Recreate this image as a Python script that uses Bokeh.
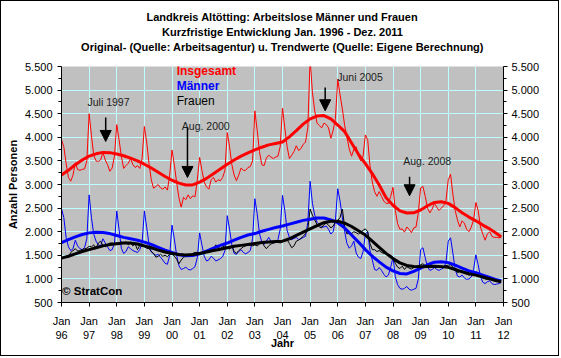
from bokeh.plotting import figure
from bokeh.models import Range1d, FixedTicker, LinearAxis, Label, Arrow, NormalHead, Title
from bokeh.embed import file_html
from bokeh.resources import INLINE

FONT = "Liberation Sans"

# ---------------- data (monthly, Jan 1996 - Dec 2011) ----------------
insgesamt = [
    3950, 3800, 3450, 3150, 3070, 3200, 3460, 3320, 3300, 3320, 3330, 3500,
    4500, 4040, 3620, 3500, 3490, 3520, 3680, 3520, 3420, 3280, 3350, 3600,
    4270, 3950, 3600, 3340, 3400, 3450, 3550, 3420, 3360, 3400, 3340, 3550,
    4230, 3900, 3450, 3100, 2920, 2960, 3000, 2930, 2900, 2950, 2880, 3200,
    3730, 3420, 3050, 2720, 2520, 2730, 2680, 2780, 2700, 2760, 2740, 3100,
    3575, 3300, 3050, 2950, 2900, 3100, 3150, 3050, 3100, 3080, 3150, 3300,
    4100, 3800, 3420, 3200, 3080, 3200, 3350, 3300, 3300, 3360, 3380, 3500,
    4560, 4150, 3700, 3420, 3400, 3560, 3620, 3580, 3550, 3580, 3600, 3800,
    4620, 4200, 3800, 3550, 3620, 3700, 3820, 3720, 3760, 3850, 3900, 4200,
    5650, 4950, 4560, 4300, 4250, 4200, 4300, 4270, 4200, 3980, 4150, 4400,
    5230, 4900, 4600, 4250, 4000, 3750, 3600, 3750, 3800, 3600, 3500, 3600,
    4050, 3950, 3400, 3050, 2850, 2750, 2850, 2750, 2650, 2600, 2600, 2750,
    2940, 2450, 2170, 2050, 2060, 1990, 2100, 2050, 1980, 2080, 2100, 2400,
    2930, 2960, 2750, 2500, 2400, 2480, 2600, 2520, 2450, 2500, 2550, 2650,
    3100, 3220, 2800, 2450, 2250, 2100, 2230, 2180, 2050, 2000, 2100, 2250,
    2620, 2450, 2100, 1950, 1820, 1950, 2000, 1900, 1880, 1880, 1870, 1880,
]
maenner = [
    2490, 2300, 1880, 1680, 1600, 1640, 1820, 1700, 1640, 1620, 1660, 1850,
    2780, 2300, 1950, 1800, 1720, 1700, 1850, 1760, 1680, 1600, 1620, 1750,
    2440, 2050, 1650, 1540, 1580, 1680, 1640, 1600, 1580, 1560, 1620, 1750,
    2440, 2090, 1740, 1570, 1530, 1500, 1520, 1460, 1400, 1330, 1310, 1500,
    2140, 1850, 1500, 1280, 1200, 1220, 1250, 1200, 1190, 1220, 1260, 1450,
    1975, 1720, 1480, 1380, 1400, 1480, 1440, 1380, 1400, 1430, 1470, 1600,
    2340, 2050, 1720, 1540, 1520, 1580, 1620, 1560, 1530, 1560, 1600, 1850,
    2700, 2380, 1960, 1780, 1730, 1800, 1880, 1800, 1760, 1780, 1830, 2050,
    2770, 2450, 2030, 1880, 1830, 1860, 1880, 1830, 1850, 1880, 1900, 2200,
    3070, 2600, 2350, 2200, 2150, 2100, 2100, 2120, 2050, 1950, 2000, 2250,
    2910, 2650, 2300, 2000, 1750, 1650, 1700, 1800, 1550, 1460, 1430, 1580,
    1950, 2000, 1600, 1400, 1200, 1180, 1240, 1180, 1100, 1040, 1080, 1250,
    1460, 1050, 880, 800, 780, 800, 840, 780, 760, 780, 800, 1000,
    1620, 1660, 1450, 1250, 1180, 1200, 1240, 1200, 1180, 1210, 1230, 1350,
    1800, 1870, 1550, 1200, 1060, 1040, 1080, 1020, 990, 1000, 1040, 1200,
    1510, 1300, 1050, 930, 900, 940, 960, 900, 880, 890, 900, 930,
]
frauen = [
    1430, 1450, 1480, 1450, 1560, 1600, 1640, 1590, 1600, 1620, 1640, 1650,
    1690, 1680, 1720, 1650, 1760, 1800, 1700, 1680, 1720, 1760, 1760, 1740,
    1770, 1720, 1790, 1740, 1790, 1720, 1760, 1700, 1740, 1620, 1710, 1690,
    1680, 1650, 1640, 1580, 1540, 1460, 1480, 1520, 1480, 1500, 1470, 1520,
    1540, 1480, 1420, 1320, 1400, 1460, 1480, 1500, 1510, 1540, 1560, 1560,
    1560, 1550, 1580, 1600, 1620, 1600, 1640, 1720, 1680, 1640, 1680, 1700,
    1660, 1630, 1700, 1580, 1540, 1600, 1640, 1680, 1700, 1720, 1720, 1700,
    1720, 1700, 1740, 1780, 1700, 1640, 1700, 1740, 1760, 1770, 1780, 1760,
    1790, 1800, 1830, 1750, 1660, 1700, 1800, 1820, 1860, 1900, 1960, 2050,
    2480, 2350, 2250, 2150, 2100, 2080, 2150, 2180, 2140, 2080, 2120, 2200,
    2240, 2300, 2480, 2100, 1950, 1980, 1960, 2000, 1980, 1950, 1990, 2030,
    2060, 2000, 1750, 1620, 1620, 1580, 1600, 1560, 1540, 1550, 1520, 1500,
    1460, 1330, 1250, 1220, 1270, 1200, 1260, 1230, 1210, 1240, 1260, 1280,
    1300, 1320, 1280, 1260, 1240, 1260, 1280, 1250, 1260, 1270, 1260, 1280,
    1290, 1300, 1250, 1200, 1130, 1160, 1180, 1120, 1100, 1080, 1100, 1110,
    1100, 1090, 1060, 1020, 1000, 990, 1000, 970, 960, 950, 940, 930,
]

# trend values, every third month (month index from Jan 1996) plus Dec 2011
trend_month = list(range(0, 190, 3)) + [191]
trend_insgesamt = [
    3200, 3300, 3420, 3520, 3600, 3650, 3680, 3675, 3645, 3610, 3560, 3500,
    3430, 3350, 3260, 3170, 3090, 3030, 2990, 2990, 3050, 3130, 3230, 3330,
    3430, 3520, 3600, 3670, 3735, 3790, 3840, 3870, 3900, 4010, 4140, 4280,
    4390, 4450, 4460, 4390, 4260, 4120, 3880, 3640, 3440, 3230, 2990, 2720,
    2560, 2440, 2395, 2400, 2460, 2550, 2620, 2635, 2600, 2510, 2400, 2310,
    2230, 2140, 2060, 1960, 1890,
]
trend_maenner = [
    1770, 1830, 1890, 1940, 1975, 1990, 1985, 1960, 1920, 1880, 1850, 1820,
    1780, 1730, 1670, 1610, 1560, 1510, 1490, 1495, 1530, 1590, 1650, 1710,
    1760, 1820, 1880, 1930, 1960, 2010, 2050, 2090, 2120, 2160, 2200, 2240,
    2265, 2290, 2290, 2250, 2190, 2080, 1930, 1780, 1620, 1480, 1360, 1250,
    1170, 1115, 1105, 1160, 1230, 1300, 1355, 1365, 1345, 1290, 1230, 1170,
    1130, 1080, 1030, 980, 960,
]
trend_frauen = [
    1440, 1480, 1530, 1580, 1620, 1660, 1700, 1730, 1745, 1760, 1760, 1740,
    1700, 1660, 1610, 1570, 1540, 1515, 1505, 1515, 1540, 1570, 1600, 1630,
    1660, 1690, 1710, 1730, 1750, 1770, 1780, 1790, 1800, 1850, 1920, 1990,
    2060, 2130, 2190, 2220, 2220, 2180, 2110, 2020, 1930, 1800, 1670, 1540,
    1430, 1340, 1285, 1265, 1260, 1265, 1270, 1260, 1245, 1200, 1150, 1110,
    1080, 1040, 1000, 960, 940,
]

title_lines = ["Landkreis Altötting: Arbeitslose Männer und Frauen",
               "Kurzfristige Entwicklung Jan. 1996 - Dez. 2011",
               "Original- (Quelle: Arbeitsagentur) u. Trendwerte (Quelle: Eigene Berechnung)"]

year_ticks = list(range(1996, 2013))
x_labels = {y: "Jan\n%02d" % (y % 100) for y in year_ticks}
y_ticks = list(range(500, 5501, 500))
y_minor = list(range(750, 5500, 500))
y_labels = {v: ("{:,}".format(v)).replace(",", ".") for v in y_ticks}

x_orig = [1996 + m / 12 for m in range(len(insgesamt))]
x_trend = [1996 + m / 12 for m in trend_month]

# ---------------- figure ----------------
p = figure(width=559, height=356, x_range=Range1d(1996, 2012), y_range=Range1d(500, 5500),
           output_backend="svg", toolbar_location=None,
           min_border_left=60, min_border_right=57, min_border_top=65, min_border_bottom=55,
           background_fill_color="#C0C0C0", border_fill_color="white", outline_line_color=None)
p.styles = {"border": "1px solid black"}

# blank spacer between the frame and the title block
p.add_layout(Title(text=" ", text_font=FONT, text_font_size="10px", standoff=0), "above")
# title lines: nearest to the frame is added first
for txt in reversed(title_lines):
    p.add_layout(Title(text=txt, align="center", text_font=FONT,
                       text_font_size="11px", text_font_style="bold", text_color="black",
                       standoff=1, offset=5), "above")

# grids
p.xgrid.ticker = FixedTicker(ticks=year_ticks)
p.ygrid.ticker = FixedTicker(ticks=y_ticks)
for g in (p.xgrid, p.ygrid):
    g.grid_line_color = "#C0FFFF"
    g.grid_line_width = 1

# axes
def style_axis(ax):
    ax.axis_line_color = "black"
    ax.major_tick_line_color = "black"
    ax.minor_tick_line_color = "black"
    ax.major_tick_in = 0
    ax.minor_tick_in = 0
    ax.major_label_text_font = FONT
    ax.major_label_text_font_size = "11px"
    ax.major_label_text_color = "black"
    ax.axis_label_text_font = FONT
    ax.axis_label_text_font_size = "11px"
    ax.axis_label_text_font_style = "bold"
    ax.axis_label_text_color = "black"

xa = p.xaxis[0]
xa.ticker = FixedTicker(ticks=year_ticks)
xa.major_label_overrides = x_labels
xa.major_tick_out = 4
xa.minor_tick_out = 0
xa.major_label_standoff = 8
xa.axis_label = "Jahr"
xa.axis_label_standoff = -7
style_axis(xa)
xa.major_label_text_line_height = 1.2

ya = p.yaxis[0]
ya.ticker = FixedTicker(ticks=y_ticks, minor_ticks=y_minor)
ya.major_label_overrides = y_labels
ya.major_tick_out = 4
ya.minor_tick_out = 3
ya.major_label_standoff = 5
ya.axis_label = "Anzahl Personen"
ya.axis_label_standoff = 3
style_axis(ya)

ra = LinearAxis(ticker=FixedTicker(ticks=y_ticks, minor_ticks=y_minor),
                major_label_overrides=y_labels)
ra.major_tick_out = 4
ra.minor_tick_out = 3
ra.major_label_standoff = 4
style_axis(ra)
p.add_layout(ra, "right")

# lines
p.line(x_orig, insgesamt, line_color="#FF0000", line_width=1)
p.line(x_orig, maenner, line_color="#0000FF", line_width=1)
p.line(x_orig, frauen, line_color="#000000", line_width=1)
p.line(x_trend, trend_insgesamt, line_color="#FF0000", line_width=3)
p.line(x_trend, trend_maenner, line_color="#0000FF", line_width=3)
p.line(x_trend, trend_frauen, line_color="#000000", line_width=3)

# legend-like labels
for txt, col, yv, style in [("Insgesamt", "#FF0000", 5401, "bold"),
                            ("Männer", "#0000FF", 5077, "bold"),
                            ("Frauen", "#000000", 4766, "normal")]:
    p.add_layout(Label(x=2000.17, y=yv, text=txt, text_color=col, text_font=FONT,
                       text_font_size="12px", text_font_style=style, text_baseline="middle"))

# annotations
for txt, xl, yl, xa_, y0, y1 in [("Juli 1997", 1996.94, 4753, 1997.60, 4420, 3912),
                                 ("Aug. 2000", 2000.355, 4244, 2000.56, 4208, 3149),
                                 ("Juni 2005", 2005.98, 5280, 2005.545, 5056, 4562),
                                 ("Aug. 2008", 2008.37, 3488, 2008.60, 3164, 2761)]:
    p.add_layout(Label(x=xl, y=yl, text=txt, text_color="#202020", text_font=FONT,
                       text_font_size="10.5px", text_baseline="middle"))
    p.add_layout(Arrow(end=NormalHead(size=11, fill_color="black", line_color="black"),
                       x_start=xa_, y_start=y0, x_end=xa_, y_end=y1,
                       line_color="black", line_width=1.5))

p.add_layout(Label(x=1996.02, y=740, text="© StratCon", text_color="black", text_font=FONT,
                   text_font_size="11.5px", text_font_style="bold", text_baseline="middle"))

open("out.html", "w").write(file_html(p, INLINE))
